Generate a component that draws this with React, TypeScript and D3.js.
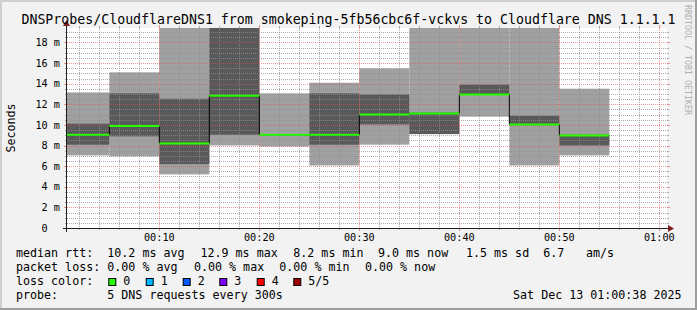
import React from "react";
import * as d3 from "d3";

// ---- data ----
const binStarts = ["00:00", "00:05", "00:10", "00:15", "00:20", "00:25", "00:30", "00:35", "00:40", "00:45", "00:50"];
const ping1 = [7.04, 6.95, 5.2, 8.01, 7.9, 6.07, 8.08, 9.1, 10.8, 6.07, 7.04];
const ping2 = [8.08, 8.89, 6.2, 9.05, 9.0, 8.08, 10.05, 9.12, 12.9, 10.0, 8.01];
const medianRtt = [9.05, 9.9, 8.2, 12.83, 9.05, 9.05, 11.0, 11.1, 12.95, 10.03, 8.97];
const ping4 = [10.12, 13.06, 12.54, 25, 9.12, 13.06, 12.96, 11.2, 13.9, 10.89, 9.05];
const ping5 = [13.15, 15.1, 25, 25, 13.06, 14.09, 15.48, 25, 25, 25, 13.51];

const yMajorTicks = [0, 2, 4, 6, 8, 10, 12, 14, 16, 18];
const xMajorTickLabels = ["00:10", "00:20", "00:30", "00:40", "00:50", "01:00"];

const titleText = "DNSProbes/CloudflareDNS1 from smokeping-5fb56cbc6f-vckvs to Cloudflare DNS 1.1.1.1";
const yUnitLabel = "Seconds";
const watermark = "RRDTOOL / TOBI OETIKER";

const legendRtt = ["median rtt:", "10.2 ms avg", "12.9 ms max", "8.2 ms min", "9.0 ms now", "1.5 ms sd", "6.7", "am/s"];
const legendLoss = ["packet loss:", "0.00 % avg", "0.00 % max", "0.00 % min", "0.00 % now"];
const lossLabels = ["0", "1", "2", "3", "4", "5/5"];
const lossColors = ["#26ff00", "#00b8ff", "#0059ff", "#7e00ff", "#ff0000", "#a10000"];
const probeLegend = ["probe:", "5 DNS requests every 300s"];
const dateStamp = "Sat Dec 13 01:00:38 2025";

// ---- layout ----
const W = 697, H = 310;
const X0 = 67, X1 = 667, Y0 = 228, Y1 = 28;
const FONT = "'DejaVu Sans Mono', monospace";
const rttX = [16, 107.3, 200.5, 293.3, 378, 466, 543.3, 586];
const lossX = [16, 107.3, 194, 279.3, 365];
const boxX = [108.3, 145.7, 182.7, 219.3, 256.7, 293.3];
const rowY = [257.3, 271.3, 285.3, 299.3];

const tm = (h: number, m: number, s = 0) => new Date(Date.UTC(2025, 11, 13, h, m, s));
const parseHM = (s: string) => {
  const [h, m] = s.split(":").map(Number);
  return tm(h, m);
};

export default function App() {
  const x = d3.scaleUtc().domain([tm(0, 0, 46), tm(1, 0, 46)]).range([X0, X1]);
  const y = d3.scaleLinear().domain([0, 19.4]).range([Y0, Y1]);
  const px = (v: number) => Math.round(v) + 0.5;

  const bins = binStarts.map((s, i) => {
    const t0 = parseHM(s);
    const t1 = new Date(t0.getTime() + 300000);
    return { x0: Math.max(X0, x(t0)), x1: x(t1), i };
  });

  // grid
  const minorX: number[] = [];
  const majorX: number[] = [];
  d3.utcMinute.every(2)!.range(x.domain()[0], x.domain()[1]).forEach((d) => {
    if (d.getUTCMinutes() % 10 === 0) majorX.push(x(d));
    else minorX.push(x(d));
  });
  const minorY: number[] = [];
  d3.range(0.5, 19.4, 0.5).forEach((v) => {
    if (Math.abs(v % 2) > 1e-6) minorY.push(y(v));
  });
  const majorY = yMajorTicks.filter((v) => v > 0).map((v) => y(v));

  const stepPts: [number, number][] = bins.map((b) => [b.x0, y(medianRtt[b.i])]);
  stepPts.push([bins[bins.length - 1].x1, y(medianRtt[medianRtt.length - 1])]);
  const stepLine = d3.line().curve(d3.curveStepAfter)(stepPts) || "";

  const gridCol = "rgba(143,143,143,0.75)";
  const mgridCol = "rgba(222,79,79,0.6)";

  return (
    <svg width={W} height={H} style={{ position: "absolute", left: 0, top: 0, display: "block" }} fontFamily={FONT}>
      <defs>
        <clipPath id="plot">
          <rect x={X0} y={Y1} width={X1 - X0} height={Y0 - Y1} />
        </clipPath>
      </defs>
      <rect x={0} y={0} width={W} height={H} fill="#f2f2f2" />
      {/* bevel */}
      <rect x={0} y={0} width={W} height={2} fill="#cfcfcf" />
      <rect x={0} y={0} width={2} height={H} fill="#cfcfcf" />
      <rect x={0} y={H - 2} width={W} height={2} fill="#9e9e9e" />
      <rect x={W - 2} y={0} width={2} height={H} fill="#9e9e9e" />

      <rect x={X0} y={Y1} width={X1 - X0} height={Y0 - Y1} fill="#ffffff" />

      <g clipPath="url(#plot)">
        {bins.map((b) => (
          <rect key={"l" + b.i} x={b.x0} width={b.x1 - b.x0} y={y(ping5[b.i])} height={y(ping1[b.i]) - y(ping5[b.i])} fill="#a0a0a0" />
        ))}
        {bins.map((b) => (
          <rect key={"d" + b.i} x={b.x0} width={b.x1 - b.x0} y={y(ping4[b.i])} height={y(ping2[b.i]) - y(ping4[b.i])} fill="#595959" />
        ))}
      </g>

      {/* grid */}
      <g strokeWidth={1} shapeRendering="crispEdges">
        {minorY.map((v, i) => (
          <g key={"my" + i}>
            <line x1={X0} x2={X1} y1={px(v)} y2={px(v)} stroke={gridCol} strokeDasharray="1 1" />
            <line x1={X0 - 2} x2={X0} y1={px(v)} y2={px(v)} stroke={gridCol} />
            <line x1={X1} x2={X1 + 2} y1={px(v)} y2={px(v)} stroke={gridCol} />
          </g>
        ))}
        {minorX.map((v, i) => (
          <g key={"mx" + i}>
            <line x1={px(v)} x2={px(v)} y1={Y1} y2={Y0} stroke={gridCol} strokeDasharray="1 1" />
            <line x1={px(v)} x2={px(v)} y1={Y0} y2={Y0 + 2} stroke={gridCol} />
            <line x1={px(v)} x2={px(v)} y1={Y1 - 2} y2={Y1} stroke={gridCol} />
          </g>
        ))}
        {majorY.map((v, i) => (
          <g key={"My" + i}>
            <line x1={X0} x2={X1} y1={px(v)} y2={px(v)} stroke={mgridCol} strokeDasharray="1 1" />
            <line x1={X0 - 3} x2={X0} y1={px(v)} y2={px(v)} stroke={mgridCol} />
            <line x1={X1} x2={X1 + 3} y1={px(v)} y2={px(v)} stroke={mgridCol} />
          </g>
        ))}
        {majorX.map((v, i) => (
          <g key={"Mx" + i}>
            <line x1={px(v)} x2={px(v)} y1={Y1} y2={Y0} stroke={mgridCol} strokeDasharray="1 1" />
            <line x1={px(v)} x2={px(v)} y1={Y0} y2={Y0 + 3} stroke={mgridCol} />
            <line x1={px(v)} x2={px(v)} y1={Y1 - 3} y2={Y1} stroke={mgridCol} />
          </g>
        ))}
      </g>

      {/* median line */}
      <g clipPath="url(#plot)">
        <path d={stepLine} fill="none" stroke="#000000" strokeWidth={1} />
        {bins.map((b) => (
          <line key={"g" + b.i} x1={b.x0} x2={b.x1} y1={y(medianRtt[b.i])} y2={y(medianRtt[b.i])} stroke={lossColors[0]} strokeWidth={2} />
        ))}
      </g>

      {/* axes */}
      <line x1={X0 - 4} x2={X1 + 4} y1={Y0 + 0.5} y2={Y0 + 0.5} stroke="#1f1f1f" strokeWidth={1} shapeRendering="crispEdges" />
      <line x1={X0 - 0.5} x2={X0 - 0.5} y1={Y0 + 4} y2={Y1 - 4} stroke="#1f1f1f" strokeWidth={1} shapeRendering="crispEdges" />
      <polygon points={`${X1 + 1},${Y0 - 3} ${X1 + 1},${Y0 + 4} ${X1 + 7},${Y0 + 0.5}`} fill="#801f1f" />
      <polygon points={`${X0 - 4},${Y1 - 2} ${X0 + 3},${Y1 - 2} ${X0 - 0.5},${Y1 - 8}`} fill="#801f1f" />

      {/* y labels */}
      {yMajorTicks.map((v) => (
        <text key={"yl" + v} x={60} y={y(v)} dy="0.36em" textAnchor="end" fontSize={10.2} fill="#000" style={{ whiteSpace: "pre" }}>
          {v === 0 ? "0  " : `${v} m`}
        </text>
      ))}
      {/* x labels */}
      {xMajorTickLabels.map((s) => (
        <text key={"xl" + s} x={x(parseHM(s))} y={241} textAnchor="middle" fontSize={10.2} fill="#000">
          {s}
        </text>
      ))}

      <text x={W / 2} y={24} textAnchor="middle" fontSize={13.25} fill="#000">{titleText}</text>
      <text transform={`translate(15,${(Y0 + Y1) / 2}) rotate(-90)`} textAnchor="middle" fontSize={11.66} fill="#000">{yUnitLabel}</text>
      <text transform={`translate(684.5,60) rotate(90)`} textAnchor="middle" fontSize={8.3} fill="#b0b0b0">{watermark}</text>

      {/* legend */}
      <g fontSize={11.66} fill="#000">
        {legendRtt.map((t, i) => (
          <text key={"r" + i} x={rttX[i]} y={rowY[0]}>{t}</text>
        ))}
        {legendLoss.map((t, i) => (
          <text key={"p" + i} x={lossX[i]} y={rowY[1]}>{t}</text>
        ))}
        <text x={16} y={rowY[2]}>loss color:</text>
        {lossLabels.map((t, i) => (
          <g key={"lc" + i}>
            <rect x={boxX[i] + 0.5} y={278.5} width={7} height={7} fill={lossColors[i]} stroke="#000" strokeWidth={1} />
            <text x={boxX[i] + 15} y={rowY[2]}>{t}</text>
          </g>
        ))}
        <text x={16} y={rowY[3]}>{probeLegend[0]}</text>
        <text x={107.3} y={rowY[3]}>{probeLegend[1]}</text>
        <text x={681.5} y={rowY[3]} textAnchor="end">{dateStamp}</text>
      </g>
    </svg>
  );
}
